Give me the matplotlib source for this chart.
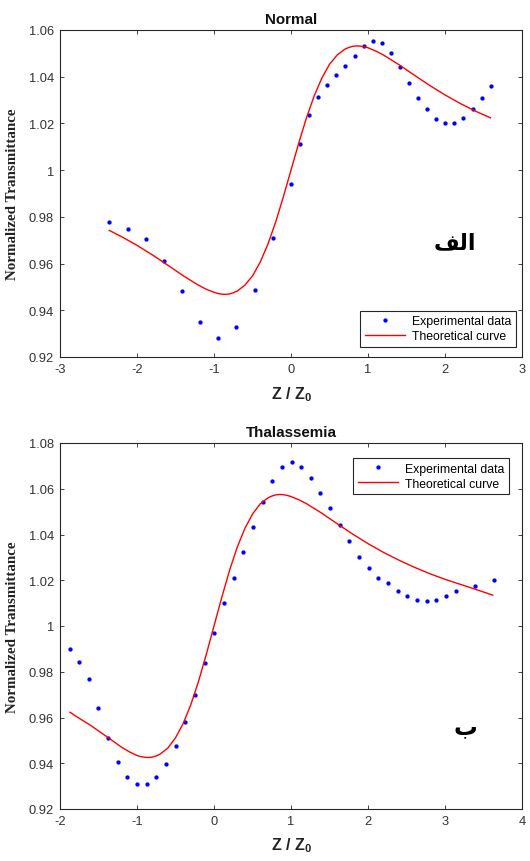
import matplotlib
matplotlib.use("Agg")
import matplotlib.pyplot as plt

plt.rcParams['axes.unicode_minus'] = False
plt.rcParams['mathtext.fontset'] = 'custom'
plt.rcParams['mathtext.rm'] = 'Liberation Sans'
plt.rcParams['mathtext.bf'] = 'Liberation Sans:bold'

# ---------------- data: Normal ----------------
normal_exp_x = [-2.359, -2.121, -1.887, -1.654, -1.416, -1.182, -0.944, -0.71, -0.472, -0.238,
                0.0, 0.117, 0.233, 0.355, 0.472, 0.589, 0.706, 0.827, 0.944, 1.061, 1.18,
                1.30, 1.416, 1.532, 1.649, 1.766, 1.887, 2.004, 2.12, 2.24, 2.36, 2.476, 2.593]
normal_exp_y = [0.978, 0.975, 0.9706, 0.9612, 0.9483, 0.935, 0.9281, 0.9328, 0.9486, 0.9709,
                0.9939, 1.0113, 1.0237, 1.0314, 1.0366, 1.0406, 1.0446, 1.049, 1.0533, 1.0554, 1.0546,
                1.0503, 1.0443, 1.0372, 1.031, 1.026, 1.0221, 1.020, 1.020, 1.0222, 1.026, 1.031, 1.036]
normal_fit_x = [-2.36, -2.2, -2.0, -1.8, -1.6, -1.4, -1.2, -1.1, -1.0, -0.95, -0.9, -0.85, -0.8,
                -0.75, -0.7, -0.6, -0.5, -0.4, -0.3, -0.2, -0.1, 0.0, 0.1, 0.2, 0.3, 0.4, 0.5,
                0.6, 0.7, 0.75, 0.8, 0.85, 0.9, 0.95, 1.0, 1.1, 1.2, 1.4, 1.6, 1.8, 2.0, 2.2,
                2.4, 2.59]
normal_fit_y = [0.9742, 0.9715, 0.9678, 0.9637, 0.9593, 0.9548, 0.9507, 0.9490, 0.9477, 0.9472,
                0.9469, 0.9468, 0.9470, 0.9475, 0.9482, 0.9507, 0.9547, 0.9606, 0.9683, 0.9777,
                0.9885, 1.0000, 1.0115, 1.0223, 1.0317, 1.0394, 1.0453, 1.0493, 1.0518, 1.0525,
                1.0530, 1.0532, 1.0531, 1.0528, 1.0524, 1.0510, 1.0493, 1.0452, 1.0407, 1.0363,
                1.0322, 1.0285, 1.0252, 1.0224]

# ---------------- data: Thalassemia ----------------
thal_exp_x = [-1.874, -1.749, -1.628, -1.502, -1.377, -1.251, -1.126, -1.0, -0.874, -0.749,
              -0.623, -0.498, -0.372, -0.247, -0.121, 0.004, 0.130, 0.255, 0.381, 0.502, 0.632,
              0.758, 0.883, 1.009, 1.134, 1.26, 1.381, 1.506, 1.632, 1.758, 1.883, 2.009, 2.134,
              2.26, 2.385, 2.51, 2.636, 2.762, 2.887, 3.013, 3.139, 3.39, 3.641]
thal_exp_y = [0.9898, 0.9843, 0.9767, 0.9643, 0.9512, 0.9405, 0.9338, 0.9311, 0.9311, 0.934,
              0.9398, 0.9475, 0.958, 0.9698, 0.9837, 0.9969, 1.010, 1.021, 1.0322, 1.0432, 1.0541,
              1.0633, 1.0694, 1.0717, 1.0694, 1.0645, 1.0583, 1.0517, 1.0443, 1.0371, 1.030, 1.0255,
              1.0212, 1.0186, 1.0154, 1.0133, 1.0114, 1.011, 1.0114, 1.013, 1.0151, 1.0177, 1.020]
thal_fit_x = [-1.87, -1.8, -1.6, -1.4, -1.2, -1.1, -1.0, -0.95, -0.9, -0.85, -0.8, -0.75, -0.7,
              -0.6, -0.5, -0.4, -0.3, -0.2, -0.1, 0.0, 0.1, 0.2, 0.3, 0.4, 0.5, 0.6, 0.7, 0.75,
              0.8, 0.85, 0.9, 0.95, 1.0, 1.1, 1.2, 1.4, 1.6, 1.8, 2.0, 2.2, 2.4, 2.6, 2.8, 3.0,
              3.2, 3.4, 3.62]
thal_fit_y = [0.9623, 0.9607, 0.9565, 0.9518, 0.9470, 0.9450, 0.9434, 0.9429, 0.9426, 0.9425,
              0.9427, 0.9432, 0.9440, 0.9466, 0.9511, 0.9574, 0.9657, 0.9759, 0.9876, 1.0000,
              1.0124, 1.0241, 1.0343, 1.0426, 1.0489, 1.0534, 1.0560, 1.0568, 1.0573, 1.0575,
              1.0574, 1.0571, 1.0566, 1.0552, 1.0535, 1.0493, 1.0447, 1.0402, 1.0360, 1.0322,
              1.0288, 1.0257, 1.0229, 1.0204, 1.0182, 1.0160, 1.0135]

normal_xticks = [-3, -2, -1, 0, 1, 2, 3]
normal_yticks = [0.92, 0.94, 0.96, 0.98, 1.0, 1.02, 1.04, 1.06]
normal_ylabels = ['0.92', '0.94', '0.96', '0.98', '1', '1.02', '1.04', '1.06']
thal_xticks = [-2, -1, 0, 1, 2, 3, 4]
thal_yticks = [0.92, 0.94, 0.96, 0.98, 1.0, 1.02, 1.04, 1.06, 1.08]
thal_ylabels = ['0.92', '0.94', '0.96', '0.98', '1', '1.02', '1.04', '1.06', '1.08']

W, H = 530, 862
fig = plt.figure(figsize=(W / 100, H / 100), dpi=100)

ax1 = fig.add_axes([60 / W, 1 - 358 / H, 462 / W, 327 / H])
ax2 = fig.add_axes([60 / W, 1 - 810 / H, 462 / W, 366 / H])

GRAY = '#262626'
SANS = 'Liberation Sans'


def style(ax, xticks, yticks, ylabels, xlim, ylim, title):
    ax.set_xlim(*xlim)
    ax.set_ylim(*ylim)
    ax.set_xticks(xticks)
    ax.set_xticklabels([str(t) for t in xticks])
    ax.set_yticks(yticks)
    ax.set_yticklabels(ylabels)
    ax.tick_params(direction='in', top=True, right=True, length=3.2, width=0.6,
                   color=GRAY, labelcolor='#333333', labelsize=9.3, pad=4.5)
    for lab in ax.get_xticklabels() + ax.get_yticklabels():
        lab.set_family(SANS)
    for s in ax.spines.values():
        s.set_color(GRAY)
        s.set_linewidth(0.8)
    ax.set_title(title, fontfamily=SANS, fontweight='bold', fontsize=10.9, pad=5, color='#111111')
    ax.set_xlabel('Z / Z$_\\mathbf{0}$', fontfamily=SANS, fontweight='bold', fontsize=11.5,
                  color='#222222')
    ax.set_ylabel('Normalized Transmittance', fontfamily='Liberation Serif', fontweight='bold',
                  fontsize=10.8, color='#222222')
    ax.yaxis.set_label_coords(-0.089, 0.5)


def add_legend(ax, loc, anchor):
    leg = ax.legend(loc=loc, bbox_to_anchor=anchor, borderaxespad=0,
                    prop={'family': SANS, 'size': 8.8}, numpoints=1, handlelength=3.25,
                    handletextpad=0.6, labelspacing=0.25, borderpad=0.38, fancybox=False,
                    framealpha=1, edgecolor=GRAY)
    leg.get_frame().set_linewidth(0.8)
    return leg


# ---------- top panel ----------
ax1.plot(normal_exp_x, normal_exp_y, linestyle='none', marker='o', markersize=3.1,
         markeredgewidth=0, color='#0000ff', label='Experimental data')
ax1.plot(normal_fit_x, normal_fit_y, color='#ff0000', linewidth=1.0, label='Theoretical curve')
style(ax1, normal_xticks, normal_yticks, normal_ylabels, (-3, 3), (0.92, 1.06), 'Normal')
ax1.xaxis.set_label_coords(0.5, -0.082)
add_legend(ax1, 'lower right', (0.987, 0.031))
fig.text(455 / W, 1 - 243 / H, '\uFED2\uFEDF\uFE8D', ha='center', va='center',
         fontfamily='DejaVu Sans', fontweight='bold', fontsize=16, color='black')

# ---------- bottom panel ----------
ax2.plot(thal_exp_x, thal_exp_y, linestyle='none', marker='o', markersize=3.1,
         markeredgewidth=0, color='#0000ff', label='Experimental data')
ax2.plot(thal_fit_x, thal_fit_y, color='#ff0000', linewidth=1.0, label='Theoretical curve')
style(ax2, thal_xticks, thal_yticks, thal_ylabels, (-2, 4), (0.92, 1.08), 'Thalassemia')
ax2.xaxis.set_label_coords(0.5, -0.073)
add_legend(ax2, 'upper right', (0.972, 0.959))
fig.text(465 / W, 1 - 727 / H, '\u0628', ha='center', va='center',
         fontfamily='DejaVu Sans', fontweight='bold', fontsize=17, color='black')

fig.savefig('out.png', dpi=100)
